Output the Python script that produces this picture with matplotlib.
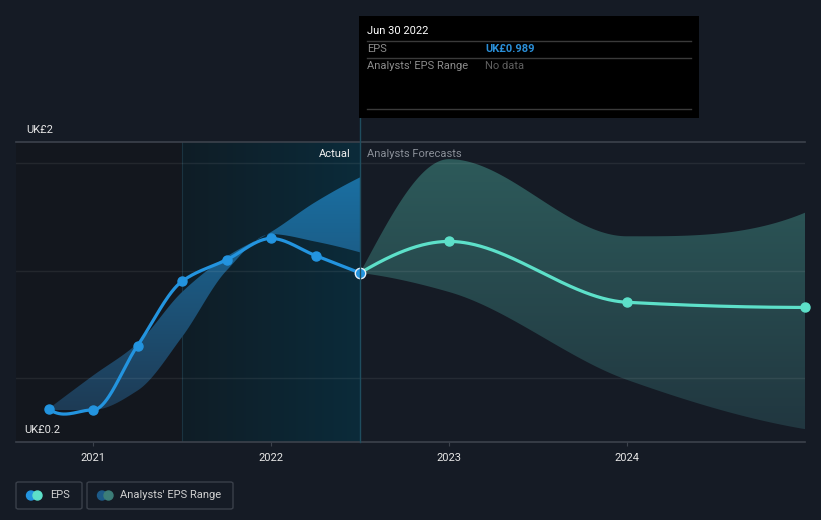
import numpy as np
import matplotlib
matplotlib.use("Agg")
import matplotlib.pyplot as plt
from matplotlib.patches import PathPatch, FancyBboxPatch, Rectangle, Circle
from matplotlib.colors import LinearSegmentedColormap

plt.rcParams['font.family'] = ['Roboto', 'DejaVu Sans']

# ---------------- data ----------------
hist_x = [2020.75, 2021.0, 2021.25, 2021.5, 2021.75, 2022.0, 2022.25, 2022.5]
hist_eps = [0.355, 0.35, 0.65, 0.95, 1.05, 1.15, 1.07, 0.989]
hist_low = [0.355, 0.35, 0.44, 0.69, 1.00, 1.17, 1.135, 1.085]
hist_high = [0.355, 0.51, 0.66, 0.90, 1.065, 1.18, 1.32, 1.435]

fc_x = [2022.5, 2023.0, 2024.0, 2025.0]
fc_eps = [0.989, 1.136, 0.852, 0.828]
fc_low = [0.989, 0.90, 0.49, 0.26]
fc_high = [0.989, 1.52, 1.16, 1.27]

year_ticks = [2021, 2022, 2023, 2024]
year_labels = ["2021", "2022", "2023", "2024"]
grid_vals = [0.5, 1.0, 1.5]
y_top_label = "UK£2"
y_bottom_label = "UK£0.2"
y_min, y_max = 0.2, 1.6
x_min, x_max = 2020.567, 2025.0
actual_start = 2021.5
actual_end = 2022.5

tooltip_date = "Jun 30 2022"
tooltip_eps = "UK£0.989"

# ---------------- helpers ----------------
def pchip(x, y, n=300):
    x = np.asarray(x, float); y = np.asarray(y, float)
    h = np.diff(x); d = np.diff(y) / h
    m = np.zeros_like(y)
    for k in range(1, len(x) - 1):
        if d[k - 1] * d[k] <= 0:
            m[k] = 0
        else:
            w1 = 2 * h[k] + h[k - 1]; w2 = h[k] + 2 * h[k - 1]
            m[k] = (w1 + w2) / (w1 / d[k - 1] + w2 / d[k])
    m[0] = d[0]; m[-1] = d[-1]
    if len(x) > 2:
        m[0] = ((2 * h[0] + h[1]) * d[0] - h[0] * d[1]) / (h[0] + h[1])
        if np.sign(m[0]) != np.sign(d[0]): m[0] = 0
        m[-1] = ((2 * h[-1] + h[-2]) * d[-1] - h[-1] * d[-2]) / (h[-1] + h[-2])
        if np.sign(m[-1]) != np.sign(d[-1]): m[-1] = 0
    xs = np.linspace(x[0], x[-1], n)
    idx = np.clip(np.searchsorted(x, xs) - 1, 0, len(x) - 2)
    t = (xs - x[idx]) / h[idx]
    h00 = 2 * t**3 - 3 * t**2 + 1; h10 = t**3 - 2 * t**2 + t
    h01 = -2 * t**3 + 3 * t**2; h11 = t**3 - t**2
    ys = h00 * y[idx] + h10 * h[idx] * m[idx] + h01 * y[idx + 1] + h11 * h[idx] * m[idx + 1]
    return xs, ys

W, H = 821, 520
fig = plt.figure(figsize=(W / 100, H / 100), dpi=100)
bg = "#151b25"
fig.patch.set_facecolor(bg)

def fx(x): return x / W
def fy(y): return 1 - y / H

ax = fig.add_axes([fx(16), fy(442), fx(805) - fx(16), fy(142) - fy(442)])
ax.set_facecolor(bg)
ax.set_xlim(x_min, x_max)
ax.set_ylim(y_min, y_max)
for s in ax.spines.values():
    s.set_visible(False)

# shaded regions
ax.axvspan(x_min, actual_start, color="#13171e", zorder=0, lw=0)
grad_h = np.linspace(0, 1, 256).reshape(1, -1)
cm_mid = LinearSegmentedColormap.from_list("mid", ["#0f1d26", "#0b2b3a"])
ax.imshow(grad_h, extent=[actual_start, actual_end, y_min, y_max], aspect="auto",
          cmap=cm_mid, zorder=0.5, origin="lower")
ax.axvline(actual_start, color="#1a3340", lw=0.8, zorder=1)

def gradient_band(xs, lo, hi, ctop, cbot, ytop, ybot, z):
    poly = ax.fill_between(xs, lo, hi, color="none", lw=0)
    path = poly.get_paths()[0]
    patch = PathPatch(path, transform=ax.transData, facecolor="none", edgecolor="none")
    ax.add_patch(patch)
    g = np.linspace(0, 1, 256).reshape(-1, 1)
    cm = LinearSegmentedColormap.from_list("b", [cbot, ctop])
    im = ax.imshow(g, extent=[xs[0], xs[-1], ybot, ytop], aspect="auto", cmap=cm,
                   origin="lower", zorder=z)
    im.set_clip_path(patch)

hx, hl = pchip(hist_x, hist_low)
_, hh = pchip(hist_x, hist_high)
gradient_band(hx, hl, hh, "#1a70a3", "#1e3b55", 1.45, 0.35, 2)

fxs, fl = pchip(fc_x, fc_low)
_, fh = pchip(fc_x, fc_high)
gradient_band(fxs, fl, fh, "#2d5a5a", "#213740", 1.52, 0.26, 2)

# gridlines
for g in grid_vals:
    ax.axhline(g, color="#ffffff", alpha=0.07, lw=1, zorder=3)
ax.axhline(y_max, color="#3c424c", lw=1.2, zorder=3, clip_on=False)
ax.axhline(y_min, color="#3c424c", lw=1.2, zorder=3, clip_on=False)

# lines
ex, ey = pchip(hist_x, hist_eps)
ax.plot(ex, ey, color="#2394df", lw=2.3, zorder=5, solid_capstyle="round")
ax.plot(hist_x[:-1], hist_eps[:-1], "o", color="#2394df", ms=6.5, zorder=6)
fx2, fe = pchip(fc_x, fc_eps)
ax.plot(fx2, fe, color="#5de0c9", lw=2.3, zorder=5, solid_capstyle="round")
ax.plot(fc_x[1:], fc_eps[1:], "o", color="#5de0c9", ms=6.5, zorder=6, clip_on=False)
ax.plot([hist_x[-1]], [hist_eps[-1]], "o", color="#2394df", ms=7.5, mec="#e8f0f8",
        mew=1.0, zorder=7)

# ticks
ax.set_yticks([])
ax.set_xticks(year_ticks)
ax.set_xticklabels(year_labels, color="#e6e6e6", fontsize=8)
ax.tick_params(axis="x", length=3, color="#3c424c", pad=5)

# cursor line
fig.add_artist(plt.Line2D([fx(359.5), fx(359.5)], [fy(118), fy(442)], color="#1f4d5e",
                          lw=1, zorder=4))

# y labels
fig.text(fx(26), fy(130), y_top_label, color="#e6e6e6", fontsize=8, va="center", ha="left")
fig.text(fx(24), fy(430), y_bottom_label, color="#e6e6e6", fontsize=8, va="center", ha="left")

# Actual / Forecast
fig.text(fx(351), fy(154), "Actual", color="#f0f0f0", fontsize=8, va="center", ha="right")
fig.text(fx(367), fy(154), "Analysts Forecasts", color="#8a8f98", fontsize=8, va="center", ha="left")

# tooltip
fig.add_artist(Rectangle((fx(359), fy(118)), fx(699) - fx(359), fy(16) - fy(118),
                         transform=fig.transFigure, facecolor="#000000", edgecolor="none", zorder=10))
for yy in [41, 58, 109]:
    fig.add_artist(plt.Line2D([fx(367), fx(691)], [fy(yy), fy(yy)], color="#3a3a3a", lw=1, zorder=11))
fig.text(fx(367), fy(31), tooltip_date, color="#ffffff", fontsize=8, va="center", zorder=12)
fig.text(fx(367), fy(49), "EPS", color="#8c8c8c", fontsize=8, va="center", zorder=12)
fig.text(fx(485), fy(49), tooltip_eps, color="#2a8fd8", fontsize=8, va="center",
         fontweight="bold", zorder=12)
fig.text(fx(367), fy(66), "Analysts' EPS Range", color="#8c8c8c", fontsize=8, va="center", zorder=12)
fig.text(fx(485), fy(66), "No data", color="#5f5f5f", fontsize=8, va="center", zorder=12)

# legend
def legend_box(x0, x1, c1, c2, label, tx):
    fig.add_artist(FancyBboxPatch((fx(x0), fy(509)), fx(x1) - fx(x0), fy(482) - fy(509),
                                  boxstyle="round,pad=0,rounding_size=0.003",
                                  transform=fig.transFigure, facecolor="none",
                                  edgecolor="#3a404a", lw=1))
    ax_l = fig.add_axes([0, 0, 1, 1], facecolor="none")
    ax_l.set_xlim(0, W); ax_l.set_ylim(H, 0); ax_l.axis("off")
    ax_l.add_patch(Circle((x0 + 15, 495.5), 4.5, color=c1, zorder=2))
    ax_l.add_patch(Circle((x0 + 21.5, 495.5), 4.5, color=c2, zorder=3))
    ax_l.text(tx, 495.5, label, color="#d0d0d0", fontsize=8, va="center", ha="left")

legend_box(16, 82, "#2394df", "#5de0c9", "EPS", 50)
legend_box(87, 233, "#1d5a88", "#3c7d78", "Analysts' EPS Range", 120)

fig.savefig("out.png", dpi=100, facecolor=bg)
